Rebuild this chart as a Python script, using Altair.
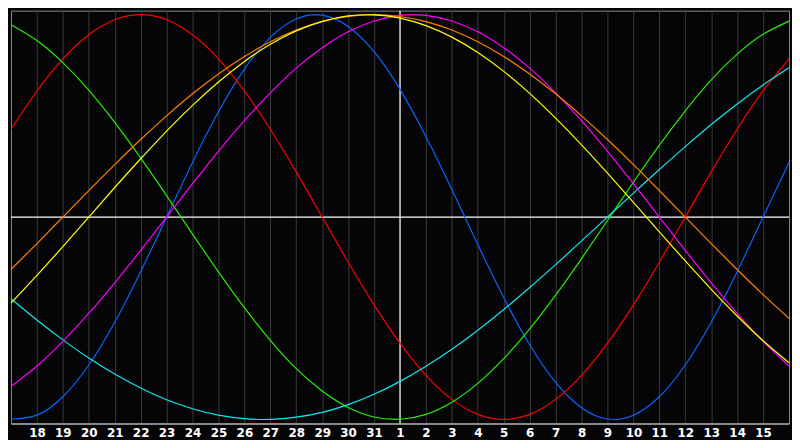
import altair as alt
import pandas as pd

# x positions: one per day (index 0..30)
day_labels = ["17", "18", "19", "20", "21", "22", "23", "24", "25", "26", "27",
              "28", "29", "30", "31", "1", "2", "3", "4", "5", "6", "7", "8",
              "9", "10", "11", "12", "13", "14", "15", "16"]
day_index = list(range(31))
tick_days = list(range(1, 30))
today_index = [15]
zero_level = [0]

# curve values (one per day)
blue_vals = [-0.998, -0.979, -0.888, -0.731, -0.520, -0.270, 0.0, 0.270, 0.520, 0.731,
             0.888, 0.979, 0.998, 0.942, 0.817, 0.631, 0.398, 0.136, -0.136, -0.398,
             -0.631, -0.817, -0.942, -0.998, -0.979, -0.888, -0.731, -0.520, -0.270, 0.0,
             0.270]
red_vals = [0.434, 0.623, 0.782, 0.901, 0.975, 1.0, 0.975, 0.901, 0.782, 0.623,
            0.434, 0.223, 0.0, -0.223, -0.434, -0.623, -0.782, -0.901, -0.975, -1.0,
            -0.975, -0.901, -0.782, -0.623, -0.434, -0.223, 0.0, 0.223, 0.434, 0.623,
            0.782]
green_vals = [0.950, 0.872, 0.763, 0.627, 0.468, 0.292, 0.106, -0.084, -0.271, -0.448,
              -0.609, -0.749, -0.860, -0.941, -0.988, -0.999, -0.975, -0.915, -0.822, -0.700,
              -0.553, -0.386, -0.205, -0.017, 0.172, 0.355, 0.525, 0.678, 0.805, 0.903,
              0.968]
magenta_vals = [-0.837, -0.736, -0.614, -0.476, -0.325, -0.165, 0.0, 0.165, 0.325, 0.476,
                0.614, 0.736, 0.837, 0.916, 0.969, 0.997, 0.997, 0.969, 0.916, 0.837,
                0.736, 0.614, 0.476, 0.325, 0.165, 0.0, -0.165, -0.325, -0.476, -0.614,
                -0.736]
yellow_vals = [-0.425, -0.288, -0.146, 0.0, 0.146, 0.288, 0.425, 0.552, 0.667, 0.769,
               0.854, 0.920, 0.967, 0.994, 0.999, 0.983, 0.946, 0.889, 0.813, 0.720,
               0.611, 0.489, 0.357, 0.217, 0.073, -0.073, -0.217, -0.357, -0.489, -0.611,
               -0.720]
orange_vals = [-0.259, -0.131, 0.0, 0.131, 0.259, 0.383, 0.500, 0.609, 0.707, 0.793,
               0.866, 0.924, 0.966, 0.991, 1.0, 0.991, 0.966, 0.924, 0.866, 0.793,
               0.707, 0.609, 0.500, 0.383, 0.259, 0.131, 0.0, -0.131, -0.259, -0.383,
               -0.500]
cyan_vals = [-0.404, -0.509, -0.607, -0.697, -0.776, -0.845, -0.903, -0.947, -0.979, -0.996,
             -1.0, -0.989, -0.965, -0.927, -0.876, -0.812, -0.737, -0.653, -0.559, -0.457,
             -0.348, -0.235, -0.118, 0.0, 0.118, 0.235, 0.348, 0.457, 0.559, 0.653,
             0.738]

series_names = ["Physical", "Emotional", "Intellectual", "Spiritual",
                "Intuitive", "Awareness", "Aesthetic"]
series_values = [blue_vals, red_vals, green_vals, cyan_vals,
                 magenta_vals, orange_vals, yellow_vals]
series_colors = ["#0a64ff", "#ff0000", "#22f000", "#10e8f0",
                 "#ff00ff", "#ff8000", "#ffff00"]

rows = []
for order, (name, vals) in enumerate(zip(series_names, series_values)):
    for k, v in zip(day_index, vals):
        rows.append({"k": k, "v": v, "series": name, "order": order})
df = pd.DataFrame(rows)

label_js = "[" + ",".join("'" + d + "'" for d in day_labels) + "][datum.value]"

x_scale = alt.Scale(domain=[0, 30], nice=False, zero=False)
y_scale = alt.Scale(domain=[-1.02, 1.02], nice=False, zero=False)

x_axis = alt.Axis(values=tick_days, labelExpr=label_js, grid=True,
                  gridColor="#3a3a3a", gridWidth=1, ticks=False,
                  domain=True, domainColor="#a0a0a0", domainWidth=1.5,
                  labelColor="#ffffff", labelFont="DejaVu Sans",
                  labelFontWeight="bold", labelFontSize=12, labelPadding=4,
                  labelAngle=0, title=None)

hline = alt.Chart(pd.DataFrame({"v": zero_level})).mark_rule(
    color="#ffffff", strokeWidth=1.2).encode(
    y=alt.Y("v:Q", scale=y_scale, axis=None))

vline = alt.Chart(pd.DataFrame({"k": today_index})).mark_rule(
    color="#ffffff", strokeWidth=1.2).encode(
    x=alt.X("k:Q", scale=x_scale, axis=x_axis))

curves = alt.Chart(df).mark_line(strokeWidth=1.2, interpolate="natural").encode(
    x=alt.X("k:Q", scale=x_scale, axis=x_axis),
    y=alt.Y("v:Q", scale=y_scale, axis=None),
    color=alt.Color("series:N", scale=alt.Scale(domain=series_names, range=series_colors),
                    legend=None),
    order=alt.Order("order:Q"),
)

chart = alt.layer(hline, vline, curves).properties(
    width=784, height=416, background="#050507", padding=0
).configure_view(stroke="#8a8a8a", strokeWidth=1)

chart.save("out.html", embed_options={"renderer": "svg", "actions": False})
